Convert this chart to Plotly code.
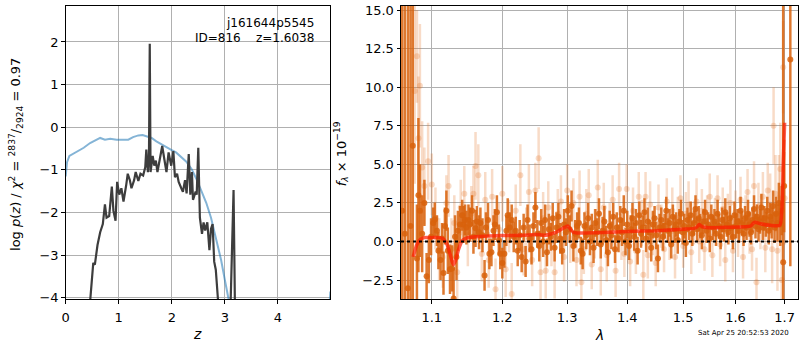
import plotly.graph_objects as go
import math

# ---------------- left panel: redshift probability ----------------
pz_z = [0.40, 0.46, 0.49, 0.52, 0.55, 0.60, 0.65, 0.70, 0.74, 0.77, 0.82, 0.87, 0.90, 0.94, 0.97,
        1.01, 1.05, 1.09, 1.14, 1.17, 1.21, 1.24, 1.29, 1.32, 1.37, 1.41, 1.46, 1.50, 1.52, 1.55,
        1.57, 1.585, 1.60, 1.64, 1.67, 1.70, 1.73, 1.77, 1.82, 1.86, 1.90, 1.94, 1.99, 2.03, 2.06,
        2.10, 2.13, 2.18, 2.21, 2.25, 2.28, 2.32, 2.35, 2.38, 2.40, 2.45, 2.47, 2.50, 2.53, 2.57,
        2.60, 2.63, 2.67, 2.71, 2.74, 2.77, 2.80, 2.83, 2.87, 2.90, 3.05, 3.11, 3.165, 3.19, 3.22, 4.99]
pz_log = [-5.0, -4.0, -3.72, -3.18, -3.22, -2.76, -2.46, -2.27, -1.81, -2.12, -2.08, -1.39, -1.96, -2.19, -1.28,
          -1.58, -1.43, -1.74, -1.36, -1.09, -1.24, -1.43, -1.24, -1.05, -1.26, -1.09, -1.13, -0.94, -0.52, -1.05,
          -0.67, 1.96, -1.05, -0.67, -0.90, -0.78, -1.05, -0.75, -0.44, -0.75, -1.05, -0.59, -0.90, -0.56, -1.17,
          -1.09, -1.28, -1.43, -1.51, -1.24, -1.55, -0.63, -1.58, -1.05, -1.70, -1.51, -1.58, -0.48, -2.12, -2.50,
          -2.23, -2.42, -2.23, -2.88, -2.38, -2.27, -3.15, -3.34, -4.02, -6.0, -6.0, -4.1, -1.47, -4.1, -6.0, -9.0]

prior_z = [0.0, 0.025, 0.07, 0.15, 0.24, 0.34, 0.46, 0.56, 0.65, 0.74, 0.84, 0.96, 1.09, 1.18, 1.27,
           1.37, 1.45, 1.52, 1.62, 1.71, 1.80, 1.90, 1.99, 2.08, 2.18, 2.27, 2.37, 2.46, 2.55, 2.65,
           2.74, 2.83, 2.93, 3.01, 3.07, 3.12, 4.90, 4.95, 4.99]
prior_log = [-1.15, -0.82, -0.67, -0.61, -0.56, -0.48, -0.37, -0.30, -0.25, -0.29, -0.27, -0.29, -0.30, -0.29, -0.23,
             -0.19, -0.18, -0.21, -0.25, -0.33, -0.40, -0.46, -0.53, -0.59, -0.69, -0.80, -0.97, -1.20, -1.47, -1.77,
             -2.12, -2.57, -3.11, -3.64, -4.02, -4.5, -6.0, -4.6, -3.85]

left_xticks = [0, 1, 2, 3, 4]
left_yticks = [-4, -3, -2, -1, 0, 1, 2]

# ---------------- right panel: spectrum ----------------
dark_lam = [1.0605, 1.064, 1.068, 1.0715, 1.0745, 1.080, 1.082, 1.084, 1.087, 1.090, 1.093,
            1.096, 1.099, 1.102, 1.104, 1.107, 1.109, 1.112, 1.114, 1.116, 1.118,
            1.120, 1.122, 1.125, 1.128, 1.130, 1.132, 1.134, 1.136, 1.139, 1.142,
            1.144, 1.146, 1.148, 1.151, 1.153, 1.156, 1.158, 1.161, 1.163, 1.166,
            1.168, 1.171, 1.174, 1.176, 1.179, 1.181, 1.184, 1.187, 1.189, 1.192,
            1.195, 1.197, 1.200, 1.203, 1.206, 1.208, 1.211, 1.214, 1.217, 1.220,
            1.223,
            1.226, 1.229, 1.232, 1.235, 1.238, 1.241, 1.244, 1.247, 1.250, 1.253,
            1.256, 1.259, 1.262, 1.265, 1.268, 1.271, 1.274, 1.277, 1.280, 1.283,
            1.286, 1.289, 1.292, 1.295, 1.298, 1.301, 1.304, 1.307, 1.310, 1.313,
            1.316, 1.319, 1.322, 1.325, 1.328, 1.331, 1.334, 1.337, 1.340, 1.343,
            1.346, 1.349, 1.352, 1.355, 1.358, 1.361, 1.364, 1.367, 1.370, 1.373,
            1.376, 1.379, 1.382, 1.385, 1.388, 1.391, 1.394, 1.397, 1.400, 1.403,
            1.406, 1.409, 1.412, 1.415, 1.418, 1.421, 1.424, 1.427, 1.430, 1.433,
            1.436, 1.439, 1.442, 1.445, 1.448, 1.451, 1.454, 1.457, 1.460, 1.463,
            1.466, 1.469, 1.472, 1.475, 1.478, 1.481, 1.484, 1.487, 1.490, 1.493,
            1.496, 1.499, 1.502, 1.505, 1.508, 1.511, 1.514, 1.517, 1.520, 1.523,
            1.526, 1.529, 1.532, 1.535, 1.538, 1.541, 1.544, 1.547, 1.550, 1.553,
            1.556, 1.559, 1.562, 1.565, 1.568, 1.571, 1.574, 1.577, 1.580, 1.583,
            1.586, 1.589, 1.592, 1.595, 1.598, 1.601, 1.604, 1.607, 1.610, 1.613,
            1.616, 1.619, 1.622, 1.625, 1.628, 1.631, 1.634, 1.637, 1.640, 1.643,
            1.646, 1.649, 1.652, 1.655, 1.658, 1.661, 1.664, 1.667, 1.670, 1.673,
            1.676, 1.679, 1.682, 1.685, 1.688, 1.691,
            1.694, 1.697, 1.699, 1.712]
dark_flux = [2.0, 0.5, -3.03, 1.0, 6.2, -1.1, 3.0, 2.0, 0.5, 2.5, -2.25,
             -1.2, 0.3, 1.2, 1.43, 0.7, -0.6, -1.2, 0.2, -2.05, 1.0,
             2.0, -0.6, -1.8, -1.75, -3.7, 0.3, -1.0, 0.7, 1.1, 1.7,
             1.1, 1.4, 0.9, 1.4, 1.1, 2.0, 0.3, 0.85, 1.3, 0.6,
             1.2, 0.4, -2.2, 0.9, 1.4, -0.8, -0.7, 0.7, 1.1, 1.9,
             0.1, -0.8, -1.4, -0.8, 0.7, 1.7, 0.9, 1.4, 0.3, 0.7,
             -0.6,
             0.4, -1.0, 0.9, -1.3, 1.4, 0.2, -0.5, 1.0, 2.2, 0.5,
             -0.3, 1.2, 0.0, 1.4, -0.7, 0.8, 0.3, 1.5, -0.4, 0.9,
             1.6, 0.2, -0.6, 1.1, 0.6, 2.0, 0.8, 2.3, -0.3, 0.5,
             1.0, 1.2, -0.6, -0.8, 1.0, 0.4, 1.5, 0.0, 0.9, -0.4,
             1.2, 0.6, 1.8, -0.2, 0.7, 1.3, 0.1, -0.7, 1.0, 0.4,
             1.6, -0.5, 0.9, 0.2, 1.4, 0.6, 2.0, 0.0, 1.1, -0.3,
             0.8, 1.5, 0.3, 1.2, -0.6, 1.7, 0.5, 0.9, 1.9, 0.2,
             1.3, 0.6, -0.4, 1.1, 1.5, 0.4, -1.1, 0.9, 1.4, 0.3,
             1.0, 2.0, 0.7, 1.2, -0.2, 1.6, 0.8, 1.1, 0.1, 1.3,
             1.8, 0.6, 1.0, -0.1, 1.4, 0.9, 1.7, 0.5, 1.2, 2.1,
             0.8, 1.5, 1.0, 0.4, 1.3, 1.9, 0.7, 1.1, 0.2, 1.6,
             0.9, 1.3, 0.5, 1.8, 1.0, 0.3, 1.4, 0.8, 1.9, 1.1,
             0.6, 1.5, 0.9, 0.3, 1.7, 1.0, 1.3, 0.7, 2.0, 1.2,
             0.5, 1.5, 0.9, 1.8, 1.1, 0.6, 1.4, 2.1, 1.0, 1.6,
             0.8, 1.3, 2.2, 0.9, 1.5, 1.1, 2.0, 0.7, 1.6, 1.2,
             2.3, 0.9, 1.8, 1.2, 2.5, 1.1,
             2.0, -1.35, 3.6, 11.8]
dark_err = [30, 30, 30, 30, 25, 3.5, 5.0, 3.0, 2.5, 1.5, 1.5,
            1.5, 1.2, 1.0, 1.1, 1.0, 1.2, 1.3, 1.0, 1.4, 1.2,
            1.3, 1.5, 1.6, 1.5, 2.0, 1.4, 1.5, 1.3, 1.2, 1.0,
            1.2, 1.0, 1.1, 1.0, 1.1, 1.0, 1.1, 1.2, 1.0, 1.1,
            1.0, 1.1, 1.0, 1.0, 1.1, 1.0, 0.9, 1.0, 1.0, 1.1,
            1.0, 1.0, 1.0, 0.9, 1.0, 1.1, 1.0, 1.0, 1.0, 0.9,
            1.0,
            1.0, 1.0, 0.9, 1.0, 1.0, 0.9, 1.0, 0.9, 1.0, 0.9,
            1.0, 0.9, 1.0, 1.0, 0.9, 1.0, 0.9, 1.0, 0.9, 1.0,
            0.9, 1.0, 0.9, 1.0, 0.9, 1.0, 0.9, 1.0, 1.0, 0.9,
            0.9, 1.0, 0.9, 1.0, 0.9, 0.9, 1.0, 0.9, 0.9, 1.0,
            0.9, 0.9, 1.0, 0.9, 0.9, 1.0, 0.9, 0.9, 1.0, 0.9,
            0.9, 0.9, 1.0, 0.9, 0.9, 0.9, 1.0, 0.9, 0.9, 0.9,
            0.9, 1.0, 0.9, 0.9, 0.9, 0.9, 0.9, 0.8, 0.9, 0.9,
            0.9, 0.8, 0.9, 0.9, 0.8, 0.9, 0.9, 0.9, 0.8, 0.9,
            0.8, 0.9, 0.8, 0.9, 0.9, 0.8, 0.9, 0.8, 0.9, 0.8,
            0.9, 0.8, 0.8, 0.9, 0.8, 0.8, 0.9, 0.8, 0.8, 0.9,
            0.8, 0.8, 0.8, 0.9, 0.8, 0.8, 0.8, 0.8, 0.9, 0.8,
            0.8, 0.8, 0.8, 0.9, 0.8, 0.8, 0.8, 0.8, 0.9, 0.8,
            0.8, 0.8, 0.8, 0.8, 0.9, 0.8, 0.8, 0.8, 0.9, 0.8,
            0.8, 0.8, 0.8, 0.9, 0.8, 0.8, 0.8, 0.9, 0.8, 0.8,
            0.8, 0.8, 0.9, 0.8, 0.8, 0.8, 0.9, 0.9, 0.9, 1.0,
            1.0, 1.0, 1.1, 1.2, 1.3, 1.4,
            1.6, 30, 3.0, 13.4]

light_lam = [1.077, 1.080, 1.082, 1.084, 1.087, 1.090, 1.095, 1.100, 1.105, 1.110,
             1.115, 1.120, 1.123, 1.127, 1.131, 1.135, 1.140, 1.145, 1.150, 1.155,
             1.158, 1.161, 1.165, 1.170, 1.175, 1.180, 1.185, 1.190, 1.195, 1.200,
             1.205, 1.210, 1.214, 1.220, 1.227, 1.232, 1.236, 1.240, 1.245, 1.250,
             1.255, 1.258, 1.262, 1.266, 1.270, 1.275, 1.280, 1.285, 1.290, 1.295,
             1.300, 1.305, 1.310, 1.315, 1.320, 1.323, 1.327, 1.331, 1.335, 1.340,
             1.345, 1.350, 1.355, 1.360, 1.365, 1.370, 1.375, 1.380, 1.386, 1.390,
             1.395, 1.399, 1.405, 1.410, 1.415, 1.420, 1.425, 1.428, 1.432, 1.436,
             1.440, 1.445, 1.450, 1.455, 1.460, 1.465, 1.470, 1.475, 1.480, 1.485,
             1.490, 1.495, 1.500, 1.505, 1.510, 1.515, 1.520, 1.525, 1.530, 1.535,
             1.540, 1.545, 1.550, 1.555, 1.560, 1.565, 1.570, 1.575, 1.580, 1.585,
             1.590, 1.595, 1.600, 1.605, 1.610, 1.615, 1.620, 1.624, 1.628, 1.633,
             1.637, 1.642, 1.646, 1.650, 1.655, 1.660, 1.665, 1.670, 1.674, 1.677,
             1.681, 1.685, 1.688, 1.691, 1.694, 1.697, 1.700]
light_flux = [9.75, 12.0, 6.7, 10.1, 4.8, 3.6, 5.2, 3.7, 1.5, -0.5,
              -1.0, 2.5, 3.6, -0.5, 1.2, -2.0, 2.2, 3.1, 0.4, 1.8,
              3.1, 4.9, 4.3, -0.8, 2.7, -1.2, 2.9, -3.1, 0.8, 3.1,
              -1.8, 1.0, -3.4, 2.0, 4.3, -0.5, 0.5, 3.2, -1.2, 3.3,
              5.4, -2.0, 1.5, -1.9, 2.2, 0.0, -2.0, 1.8, 2.6, -1.0,
              3.3, 0.2, 2.5, -1.2, 2.9, -2.65, -0.5, 1.8, 3.0, -1.5,
              0.5, 3.5, -1.8, 2.2, -0.9, 1.0, 2.7, -1.9, 3.4, 0.3,
              -0.8, 3.4, -1.3, 2.0, -0.6, 2.9, 1.2, -2.15, 2.9, -0.9,
              2.4, 0.5, -1.4, 2.2, 1.0, -0.5, 2.6, 0.2, 2.0, -1.0,
              1.5, 2.8, -0.3, 1.8, 2.4, -0.7, 1.2, 2.6, 0.0, 2.0,
              -0.5, 1.6, 2.9, -0.9, 1.4, 2.8, -0.2, 2.1, -1.2, 1.7,
              2.5, -0.6, 1.9, 0.4, 2.7, -1.0, 1.6, 3.2, 0.6, -0.5,
              3.6, -2.65, 2.3, 1.0, 2.9, -0.4, 3.3, 2.4, -0.5, 7.5,
              3.1, -0.6, 2.8, 4.7, -2.5, 11.3, 2.8]
light_err = [6.0, 3.0, 4.0, 4.0, 3.0, 2.5, 2.5, 2.0, 2.0, 2.0,
             2.0, 1.8, 2.0, 2.0, 1.8, 2.0, 1.8, 1.8, 2.0, 1.8,
             1.8, 2.2, 2.0, 1.8, 1.8, 1.8, 1.8, 2.0, 1.7, 1.8,
             1.8, 1.7, 2.0, 1.7, 2.0, 1.7, 1.7, 1.8, 1.7, 1.8,
             2.0, 1.8, 1.7, 1.8, 1.7, 1.6, 1.7, 1.6, 1.7, 1.6,
             1.7, 1.6, 1.6, 1.7, 1.7, 1.8, 1.6, 1.6, 1.7, 1.6,
             1.6, 1.8, 1.7, 1.6, 1.7, 1.5, 1.6, 1.7, 1.7, 1.5,
             1.5, 1.6, 1.6, 1.5, 1.5, 1.6, 1.5, 1.6, 1.6, 1.5,
             1.5, 1.4, 1.5, 1.5, 1.4, 1.5, 1.5, 1.4, 1.5, 1.4,
             1.4, 1.5, 1.4, 1.4, 1.5, 1.4, 1.4, 1.5, 1.4, 1.4,
             1.4, 1.4, 1.5, 1.4, 1.4, 1.5, 1.4, 1.4, 1.4, 1.4,
             1.5, 1.4, 1.4, 1.4, 1.5, 1.4, 1.4, 1.5, 1.4, 1.4,
             1.6, 1.6, 1.5, 1.5, 1.6, 1.6, 1.8, 2.0, 2.2, 2.5,
             2.5, 2.6, 2.8, 3.0, 3.0, 3.0, 3.0]

model_lam = [1.075, 1.080, 1.085, 1.090, 1.100, 1.110, 1.115, 1.120, 1.125, 1.128, 1.130, 1.133, 1.137,
             1.142, 1.150, 1.160, 1.180, 1.200, 1.230, 1.255, 1.265, 1.275, 1.285, 1.293, 1.298, 1.301,
             1.305, 1.310, 1.316, 1.330, 1.360, 1.400, 1.450, 1.500, 1.520, 1.526, 1.530, 1.536, 1.545,
             1.580, 1.620, 1.630, 1.636, 1.640, 1.650, 1.670, 1.690, 1.694, 1.697, 1.700]
model_flux = [-1.0, -0.2, 0.15, 0.25, 0.25, 0.25, 0.2, -0.1, -0.8, -1.3, -1.5, -1.2, -0.5,
              0.05, 0.25, 0.3, 0.35, 0.38, 0.4, 0.45, 0.4, 0.5, 0.65, 0.85, 0.95, 1.0,
              0.8, 0.6, 0.55, 0.55, 0.58, 0.65, 0.7, 0.8, 0.85, 0.95, 1.1, 0.95, 0.9,
              0.92, 0.95, 1.0, 1.2, 1.25, 1.15, 1.05, 1.05, 2.0, 5.0, 7.7]

right_xticks = [1.1, 1.2, 1.3, 1.4, 1.5, 1.6, 1.7]
right_yticks = [-2.5, 0.0, 2.5, 5.0, 7.5, 10.0, 12.5, 15.0]

assert len(dark_lam) == len(dark_flux) == len(dark_err)
assert len(light_lam) == len(light_flux) == len(light_err)
assert len(pz_z) == len(pz_log)
assert len(prior_z) == len(prior_log)
assert len(model_lam) == len(model_flux)

FONT = "DejaVu Sans"
GRID = "#b0b0b0"

fig = go.Figure()

fig.add_trace(go.Scatter(x=prior_z, y=prior_log, mode="lines",
                         line=dict(color="rgba(31,119,180,0.55)", width=2),
                         xaxis="x", yaxis="y", showlegend=False, hoverinfo="skip"))
fig.add_trace(go.Scatter(x=pz_z, y=pz_log, mode="lines",
                         line=dict(color="#3d3d3d", width=2.2),
                         xaxis="x", yaxis="y", showlegend=False, hoverinfo="skip"))

light_col = "rgba(226,110,30,0.25)"
dark_col = "rgba(216,98,12,0.85)"
fig.add_trace(go.Scatter(x=light_lam, y=light_flux, mode="markers",
                         marker=dict(color=light_col, size=6),
                         error_y=dict(type="data", array=light_err, color=light_col,
                                      thickness=2.5, width=0),
                         xaxis="x2", yaxis="y2", showlegend=False, hoverinfo="skip"))
fig.add_trace(go.Scatter(x=dark_lam, y=dark_flux, mode="markers",
                         marker=dict(color=dark_col, size=6),
                         error_y=dict(type="data", array=dark_err, color=dark_col,
                                      thickness=2.5, width=0),
                         xaxis="x2", yaxis="y2", showlegend=False, hoverinfo="skip"))
fig.add_trace(go.Scatter(x=model_lam, y=model_flux, mode="lines",
                         line=dict(color="rgba(255,25,0,0.7)", width=3.5, shape="spline", smoothing=0.6),
                         xaxis="x2", yaxis="y2", showlegend=False, hoverinfo="skip"))

ydom = [1 - 304 / 350, 1 - 3 / 350]
axis_common = dict(showline=True, mirror=True, linecolor="black", linewidth=1,
                   ticks="outside", ticklen=3.5, tickcolor="black", tickwidth=1,
                   showgrid=True, gridcolor=GRID, gridwidth=1, zeroline=False,
                   ticklabeloverflow="allow",
                   tickfont=dict(family=FONT, size=13, color="black"))

fig.update_layout(
    width=800, height=350,
    margin=dict(l=0, r=0, t=0, b=0),
    paper_bgcolor="white", plot_bgcolor="white",
    font=dict(family=FONT, color="black"),
    xaxis=dict(domain=[62 / 800, 328 / 800], range=[0, 4.99], anchor="y",
               tickvals=left_xticks, ticklabelstandoff=3, **axis_common),
    yaxis=dict(domain=ydom, range=[-4.03, 2.845], anchor="x",
               tickvals=left_yticks, **axis_common),
    xaxis2=dict(domain=[399 / 800, 798 / 800], type="log",
                range=[math.log10(1.059), math.log10(1.7283)], anchor="y2",
                tickvals=right_xticks, ticktext=[f"{v:.1f}" for v in right_xticks],
                ticklabelstandoff=3, **axis_common),
    yaxis2=dict(domain=ydom, range=[-3.74, 15.27], anchor="x2",
                tickvals=right_yticks, ticktext=[f"{v:.1f}".replace("-", "\u2212") for v in right_yticks],
                **axis_common),
    shapes=[dict(type="line", xref="x2 domain", yref="y2", x0=0, x1=1, y0=0, y1=0,
                 line=dict(color="black", width=2, dash="dot"), layer="above")],
    annotations=[
        dict(text="j161644p5545", x=314 / 800, y=1 - 21 / 350, xref="paper", yref="paper",
             xanchor="right", yanchor="middle", showarrow=False, font=dict(size=12, family=FONT)),
        dict(text="ID=816\u00a0\u00a0\u00a0\u00a0z=1.6038", x=314 / 800, y=1 - 36 / 350, xref="paper",
             yref="paper", xanchor="right", yanchor="middle", showarrow=False, font=dict(size=12, family=FONT)),
        dict(text="<i>z</i>", x=194 / 800, y=1 - 340 / 350, xref="paper", yref="paper",
             xanchor="center", yanchor="middle", showarrow=False, font=dict(size=14, family=FONT)),
        dict(text="<i>λ</i>", x=598 / 800, y=1 - 341 / 350, xref="paper", yref="paper",
             xanchor="center", yanchor="middle", showarrow=False, font=dict(size=14, family=FONT)),
        dict(text="log <i>p</i>(<i>z</i>) / <i>χ</i><sup>2</sup> = <sup>2837</sup>/<sub>2924</sub> = 0.97",
             x=12 / 800, y=1 - 155 / 350, xref="paper", yref="paper", textangle=-90,
             xanchor="center", yanchor="middle", showarrow=False, font=dict(size=13, family=FONT)),
        dict(text="<i>f</i><sub><i>λ</i></sub> × 10<sup>−19</sup>",
             x=339 / 800, y=1 - 155 / 350, xref="paper", yref="paper", textangle=-90,
             xanchor="center", yanchor="middle", showarrow=False, font=dict(size=13, family=FONT)),
        dict(text="Sat Apr 25 20:52:53 2020", x=743 / 800, y=1 - 339 / 350, xref="paper", yref="paper",
             xanchor="center", yanchor="middle", showarrow=False, font=dict(size=7, family=FONT)),
    ],
)

fig.write_html("out.html", config={"displayModeBar": False, "staticPlot": True},
               post_script="document.body.style.margin='0';document.body.style.overflow='hidden';")
